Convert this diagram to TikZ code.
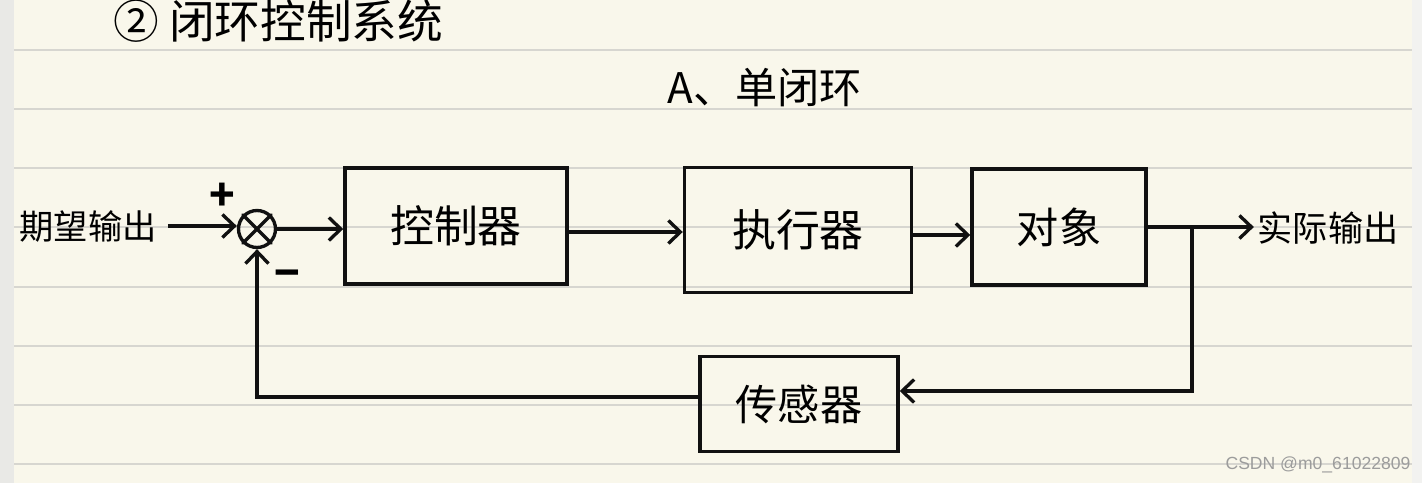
\documentclass[tikz,border=0pt]{standalone}
\usepackage{fontspec}
\usepackage{tikz}
\usetikzlibrary{arrows.meta,positioning}
\newfontfamily\cjkhand{Noto Sans CJK SC}
\newfontfamily\wmfont{Liberation Sans}
\definecolor{paper}{HTML}{F9F7EB}
\definecolor{ink}{HTML}{111111}
\definecolor{ruled}{HTML}{D7D6D0}
\definecolor{edgegray}{HTML}{E9E9E6}
\definecolor{wmgray}{HTML}{9C9C9C}
\tikzset{
  blockbox/.style={draw=ink,line width=2pt,inner sep=0pt,
                   font=\cjkhand\fontsize{25}{30}\selectfont},
  sumnode/.style={draw=ink,circle,line width=1.9pt,minimum size=0.74cm,inner sep=0pt},
  sigarr/.style={-{Straight Barb[length=2.4mm,width=4.6mm,line width=1.9pt]},
                 line width=1.9pt,color=ink},
  sigline/.style={line width=1.9pt,color=ink,line cap=round},
  sigtext/.style={font=\cjkhand\fontsize{20}{24}\selectfont,inner sep=0pt},
  signmark/.style={font=\cjkhand\fontsize{24}{26}\selectfont\bfseries,inner sep=0pt}
}

\begin{document}
\begin{tikzpicture}[x=0.02cm,y=-0.02cm]
  % paper
  \useasboundingbox (0,0) rectangle (1422,483);
  \clip (0,0) rectangle (1422,483);
  \fill[paper] (0,0) rectangle (1422,483);
  \fill[edgegray] (0,0) rectangle (14,483);
  \fill[edgegray!60!white] (1412,0) rectangle (1422,483);
  \foreach \y in {50,109,168,227,287,346,405,464} {
    \draw[ruled,line width=0.9pt] (14,\y) -- (1412,\y);
  }

  % headings
  \node[font=\cjkhand\fontsize{26}{30}\selectfont,anchor=west,inner sep=0pt] (title) at (113,21) {② 闭环控制系统};
  \node[font=\cjkhand\fontsize{24}{28}\selectfont,inner sep=0pt] (sub) at (765,88) {A、单闭环};

  % forward path
  \node[sigtext,font=\cjkhand\fontsize{19.5}{24}\selectfont] (yin) at (88,226) {期望输出};
  \node[sumnode] (sum) at (257,229) {};
  \draw[sigline] (sum.north west) -- (sum.south east);
  \draw[sigline] (sum.north east) -- (sum.south west);
  \node[signmark] (plus) at (222,197) {+};
  \node[signmark] (minus) at (287,279) {−};
  \node[blockbox,minimum width=4.44cm,minimum height=2.32cm] (ctrl) at (456,226) {控制器};
  \node[blockbox,minimum width=4.54cm,minimum height=2.5cm] (act) at (798,230) {执行器};
  \node[blockbox,minimum width=3.48cm,minimum height=2.32cm,font=\cjkhand\fontsize{24}{28}\selectfont] (obj) at (1059,227) {对象};
  \node[sigtext] (yout) at (1328,228) {实际输出};

  \draw[sigarr] (yin.east) ++(0.22cm,0) coordinate (inst) -- (inst -| sum.west);
  \draw[sigarr] (sum.east) -- (sum.east -| ctrl.west);
  \draw[sigarr] ([yshift=-0.12cm]ctrl.east) -- ([yshift=-0.12cm]ctrl.east -| act.west);
  \draw[sigarr] ([yshift=-0.1cm]act.east) -- ([yshift=-0.1cm]act.east -| obj.west);
  \draw[sigarr,shorten >=2pt] (obj.east) -- (obj.east -| yout.west);

  % feedback path
  \node[blockbox,minimum width=3.96cm,minimum height=1.9cm,font=\cjkhand\fontsize{24}{28}\selectfont] (sens) at (799,404) {传感器};
  \coordinate (br) at (1192,227);
  \draw[sigarr] (br) |- ([yshift=0.26cm]sens.east);
  \draw[sigarr] ([yshift=0.14cm]sens.west) -| (sum.south);

  % watermark
  \node[font=\wmfont\fontsize{10}{12}\selectfont,text=wmgray,inner sep=0pt] (wm) at (1318,465) {CSDN @m0\_61022809};
\end{tikzpicture}
\end{document}
